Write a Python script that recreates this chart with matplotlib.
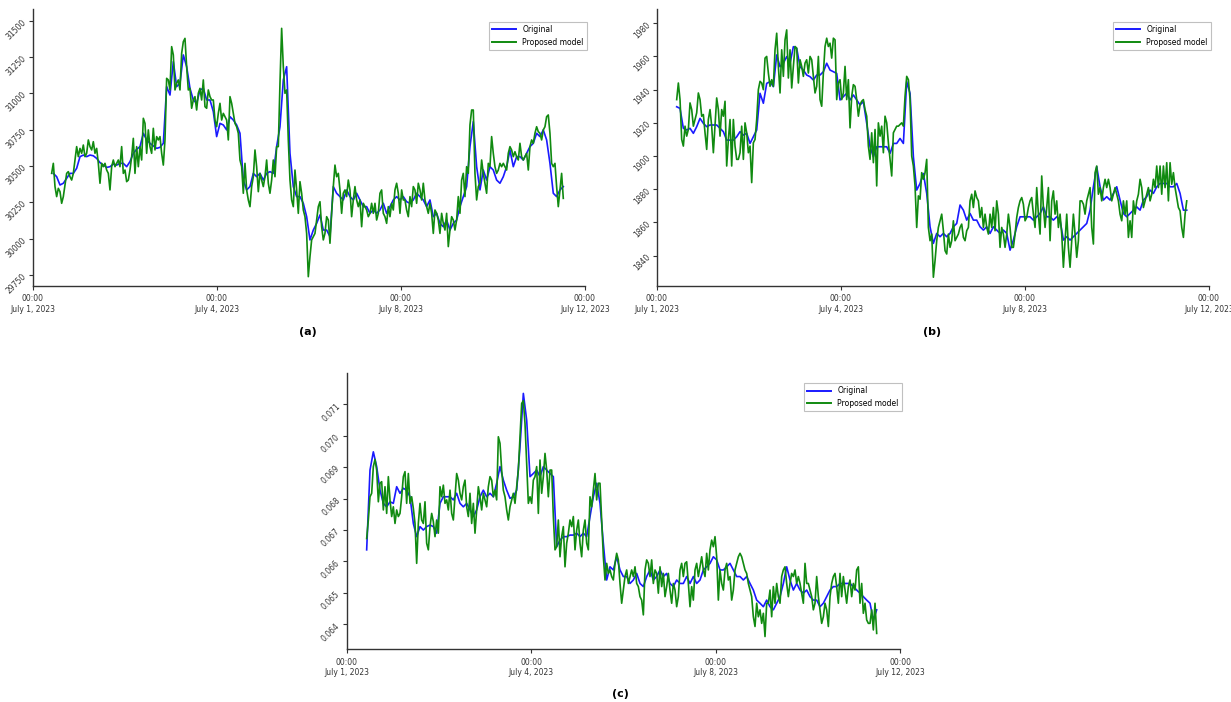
import numpy as np
import matplotlib
matplotlib.use("Agg")
import matplotlib.pyplot as plt

# x tick labels shared by all three panels
tick_labels = ['00:00\nJuly 1, 2023', '00:00\nJuly 4, 2023',
               '00:00\nJuly 8, 2023', '00:00\nJuly 12, 2023']

# ---- panel (a) ----
orig_a = [
    30449, 30426, 30369, 30381, 30415, 30449, 30449, 30484, 30564, 30575,
    30564, 30575, 30570, 30552, 30523, 30506, 30490, 30495, 30513, 30506,
    30518, 30518, 30495, 30530, 30587, 30615, 30633, 30725, 30679, 30656,
    30638, 30621, 30628, 30656, 31046, 30988, 31218, 31046, 31069, 31264,
    31183, 31034, 30954, 30931, 31023, 31034, 30954, 30954, 30874, 30702,
    30793, 30782, 30748, 30839, 30816, 30782, 30725, 30403, 30335, 30358,
    30449, 30426, 30449, 30403, 30449, 30461, 30449, 30633, 30770, 31092,
    31183, 30587, 30358, 30289, 30289, 30243, 30151, 29991, 30059, 30105,
    30163, 30059, 30059, 30014, 30358, 30312, 30289, 30266, 30335, 30289,
    30266, 30312, 30266, 30220, 30220, 30174, 30197, 30174, 30197, 30243,
    30174, 30220, 30266, 30289, 30266, 30289, 30254, 30243, 30266, 30312,
    30289, 30266, 30220, 30266, 30151, 30174, 30105, 30082, 30128, 30059,
    30105, 30128, 30220, 30289, 30358, 30633, 30805, 30495, 30335, 30472,
    30403, 30495, 30472, 30403, 30381, 30426, 30495, 30610, 30495, 30564,
    30564, 30541, 30587, 30633, 30656, 30725, 30702, 30748, 30679, 30518,
    30312, 30289, 30335, 30358]

model_a = [
    30449, 30518, 30358, 30289, 30346, 30323, 30243, 30289, 30369, 30449,
    30461, 30426, 30403, 30449, 30541, 30633, 30564, 30621, 30587, 30644,
    30564, 30587, 30679, 30633, 30610, 30667, 30587, 30621, 30518, 30381,
    30518, 30495, 30518, 30472, 30449, 30335, 30495, 30541, 30495, 30518,
    30541, 30495, 30633, 30449, 30472, 30392, 30403, 30472, 30564, 30690,
    30449, 30633, 30495, 30633, 30541, 30828, 30793, 30587, 30748, 30633,
    30587, 30759, 30610, 30702, 30679, 30702, 30587, 30506, 30679, 31103,
    31092, 31023, 31321, 31264, 31023, 31069, 31092, 31023, 31275, 31355,
    31378, 31183, 31023, 31034, 30897, 30954, 30977, 30885, 31000, 31034,
    30954, 31092, 30908, 30897, 31023, 30977, 30954, 30954, 30816, 30770,
    30862, 30931, 30816, 30862, 30839, 30816, 30679, 30977, 30931, 30862,
    30793, 30770, 30725, 30541, 30495, 30312, 30518, 30335, 30266, 30220,
    30358, 30426, 30610, 30495, 30323, 30449, 30403, 30358, 30426, 30541,
    30381, 30312, 30403, 30541, 30426, 30633, 30633, 31069, 31447, 31183,
    31000, 31023, 30679, 30403, 30266, 30220, 30472, 30335, 30174, 30392,
    30312, 30197, 30151, 30036, 29738, 29876, 29991, 30014, 30036, 30128,
    30220, 30254,
    30082, 29991, 30036, 30151, 30128, 29968, 30174, 30358, 30506, 30426,
    30449, 30335, 30174, 30312, 30335, 30289, 30403, 30335, 30151, 30266,
    30358, 30266, 30220, 30266, 30082, 30243, 30220, 30197, 30151, 30174,
    30243, 30174, 30243, 30128, 30174, 30312, 30335, 30174, 30151, 30105,
    30220, 30151, 30243, 30197, 30335, 30381, 30312, 30174, 30335, 30266,
    30266, 30197, 30151, 30289, 30220, 30358, 30335, 30243, 30381, 30335,
    30266, 30381, 30266, 30220, 30174, 30243, 30174, 30036, 30197, 30174,
    30128, 30036, 30174, 30105, 30059, 30174, 29945, 30059, 30151, 30128,
    30059, 30128, 30289, 30174, 30403, 30449, 30289, 30495, 30449, 30782,
    30885, 30885, 30449, 30266, 30358, 30381, 30541, 30449, 30381, 30312,
    30518, 30495, 30702, 30587, 30495, 30449, 30472, 30518, 30495, 30518,
    30495, 30472, 30587, 30633, 30610, 30564, 30598, 30564, 30541, 30656,
    30564, 30541, 30564, 30587, 30472, 30633, 30679, 30656, 30725, 30770,
    30736, 30725, 30679, 30748, 30770, 30839, 30851, 30725, 30518, 30495,
    30518, 30358, 30220, 30335, 30449, 30277]

# ---- panel (b) ----
orig_b = [
    1929.7, 1928.7, 1916.7, 1915.7, 1916.7, 1913.7, 1917.7, 1922.7, 1919.7, 1917.7,
    1918.7, 1918.7, 1918.7, 1916.7, 1914.7, 1909.6, 1909.6, 1909.6, 1911.6, 1914.7,
    1912.6, 1913.7, 1907.6, 1911.6, 1915.7, 1937.8, 1931.8, 1943.8, 1944.8, 1941.8,
    1960.9, 1953.8, 1955.9, 1959.9, 1955.9, 1965.9, 1964.9, 1953.8, 1951.8, 1948.8,
    1947.8, 1945.8, 1948.8, 1948.8, 1950.8, 1955.9, 1951.8, 1950.8, 1949.8, 1933.8,
    1935.8, 1937.8, 1933.8, 1936.8, 1933.8, 1930.8, 1932.8, 1919.7, 1905.6, 1899.6,
    1905.6, 1905.6, 1905.6, 1905.6, 1901.6, 1907.6, 1907.6, 1910.6, 1907.6, 1944.8,
    1937.8, 1899.6, 1879.5,
    1883.5, 1889.5, 1877.5, 1857.4, 1847.4, 1853.4, 1851.4, 1853.4, 1851.4, 1853.4,
    1857.4, 1859.4, 1870.5, 1867.4, 1861.4, 1865.4, 1861.4, 1861.4, 1857.4, 1855.4,
    1857.4, 1853.4, 1857.4, 1855.4, 1853.4, 1855.4, 1853.4, 1843.3, 1849.4, 1857.4,
    1863.4, 1863.4, 1863.4, 1863.4, 1861.4, 1863.4, 1865.4, 1869.4, 1863.4, 1863.4,
    1861.4, 1863.4, 1861.4, 1849.4, 1851.4, 1849.4, 1851.4, 1853.4, 1855.4, 1857.4,
    1859.4, 1867.4, 1881.5, 1893.6, 1881.5, 1873.5, 1875.5, 1873.5, 1877.5, 1881.5,
    1873.5, 1865.4, 1863.4, 1865.4, 1867.4, 1869.4, 1867.4, 1873.5, 1875.5, 1879.5,
    1877.5, 1881.5, 1883.5, 1883.5, 1883.5, 1881.5, 1881.5, 1883.5, 1877.5, 1867.4,
    1867.4]

model_b = [
    1934, 1944, 1934, 1910, 1906, 1918, 1912, 1916, 1932, 1928,
    1918, 1922, 1926, 1938, 1934, 1924, 1925, 1914, 1904, 1922,
    1928, 1918, 1902, 1918, 1935, 1928, 1912, 1928, 1924, 1933,
    1894, 1910, 1922, 1894, 1922, 1906, 1898, 1898, 1902, 1918,
    1898, 1920, 1914, 1902, 1906, 1884, 1908, 1910, 1922, 1940,
    1945, 1944, 1940, 1959, 1960, 1950, 1942, 1946, 1942, 1964,
    1974, 1954, 1938, 1964, 1948, 1970, 1976, 1947, 1964, 1941,
    1954, 1966, 1965, 1944, 1958, 1954, 1948, 1956, 1958, 1950,
    1960, 1958, 1948, 1938, 1942, 1960, 1934, 1930, 1950, 1966,
    1971, 1966, 1968, 1959, 1971, 1970, 1934, 1944, 1946, 1934,
    1938, 1954, 1934, 1946, 1917, 1936, 1943, 1942, 1934, 1924,
    1931, 1933, 1934, 1928, 1924, 1906, 1898, 1914, 1896, 1916,
    1882, 1920, 1912, 1918, 1902, 1924, 1920, 1908, 1898, 1888,
    1914, 1916, 1918, 1918, 1919, 1920, 1918, 1936, 1948, 1946,
    1934, 1900, 1894, 1882, 1857, 1876,
    1874, 1890, 1886, 1890, 1898, 1857, 1849, 1853, 1827, 1837,
    1849, 1857, 1861, 1865, 1855, 1843, 1841, 1853, 1845, 1849,
    1861, 1849, 1851, 1853, 1857, 1859, 1851, 1849, 1855, 1857,
    1873, 1877, 1869, 1879, 1875, 1873, 1863, 1869, 1857, 1865,
    1857, 1853, 1865, 1857, 1869, 1855, 1873, 1865, 1845, 1857,
    1853, 1845, 1853, 1865, 1857, 1845, 1845, 1853, 1863, 1869,
    1873, 1875, 1871, 1861, 1863, 1869, 1873, 1875, 1865, 1857,
    1881, 1865, 1853, 1888, 1869, 1857, 1869, 1881, 1849, 1873,
    1879, 1865, 1873, 1857, 1865, 1853, 1833, 1849, 1865, 1845,
    1833, 1849, 1865, 1853, 1839, 1849, 1873, 1873, 1871, 1865,
    1873, 1877, 1881, 1857, 1847, 1890, 1894, 1877, 1881, 1873,
    1881, 1886, 1881, 1886, 1881, 1873, 1877, 1881, 1877, 1873,
    1865, 1861, 1873, 1865, 1873, 1851, 1861, 1851, 1873, 1865,
    1873, 1877, 1886, 1881, 1869, 1873, 1877, 1881, 1873, 1877,
    1886, 1881, 1894, 1881, 1894, 1877, 1894, 1881, 1896, 1873,
    1896, 1883, 1890, 1881, 1875, 1869, 1867, 1857, 1851, 1865,
    1873]

# ---- panel (c) ----
orig_c = [
    0.06637, 0.06891, 0.06949, 0.06902, 0.06827, 0.06785, 0.06774, 0.06790, 0.06785, 0.06838,
    0.06817, 0.06833, 0.06827, 0.06806, 0.06721, 0.06679, 0.06711, 0.06700, 0.06711, 0.06716,
    0.06711, 0.06690, 0.06785, 0.06806, 0.06806, 0.06806, 0.06796, 0.06817, 0.06785, 0.06774,
    0.06785, 0.06764, 0.06743, 0.06764, 0.06806, 0.06827, 0.06806, 0.06817, 0.06806, 0.06849,
    0.06902, 0.06859, 0.06827, 0.06801, 0.06806, 0.06827, 0.06965, 0.07135, 0.07050, 0.06870,
    0.06880, 0.06891, 0.06870, 0.06902, 0.06891, 0.06880, 0.06870, 0.06647, 0.06668, 0.06679,
    0.06679, 0.06684, 0.06684, 0.06690, 0.06679, 0.06690, 0.06679, 0.06743, 0.06806, 0.06849,
    0.06785, 0.06658, 0.06541, 0.06583, 0.06573, 0.06615, 0.06573,
    0.06552, 0.06552, 0.06530, 0.06541, 0.06562, 0.06530, 0.06520, 0.06552, 0.06573, 0.06541,
    0.06552, 0.06573, 0.06552, 0.06562, 0.06530, 0.06520, 0.06541, 0.06530, 0.06530, 0.06552,
    0.06530, 0.06552, 0.06530, 0.06541, 0.06573, 0.06583, 0.06594, 0.06615, 0.06605, 0.06573,
    0.06573, 0.06583, 0.06594, 0.06573, 0.06552, 0.06552, 0.06541, 0.06552, 0.06530, 0.06509,
    0.06477, 0.06467, 0.06456, 0.06477, 0.06456, 0.06446, 0.06467, 0.06488, 0.06530, 0.06583,
    0.06541, 0.06509, 0.06530, 0.06509, 0.06499, 0.06509, 0.06488, 0.06477, 0.06477, 0.06456,
    0.06467, 0.06488, 0.06509, 0.06520, 0.06520, 0.06530, 0.06530, 0.06530, 0.06530, 0.06520,
    0.06509, 0.06499, 0.06488, 0.06477, 0.06467, 0.06414, 0.06446]

model_c = [
    0.06673, 0.06732, 0.06806, 0.06817, 0.06902, 0.06925, 0.06891, 0.06790, 0.06849, 0.06854,
    0.06764, 0.06838, 0.06753, 0.06870, 0.06796, 0.06743, 0.06774, 0.06721, 0.06764, 0.06743,
    0.06753, 0.06806, 0.06870, 0.06886, 0.06785, 0.06880, 0.06785, 0.06806, 0.06769, 0.06721,
    0.06594, 0.06721, 0.06785, 0.06732, 0.06721, 0.06790, 0.06658, 0.06637, 0.06711, 0.06753,
    0.06727, 0.06679, 0.06732, 0.06690, 0.06838, 0.06806, 0.06843, 0.06785, 0.06796, 0.06764,
    0.06827, 0.06753, 0.06732, 0.06806, 0.06880, 0.06859, 0.06817, 0.06796, 0.06838, 0.06859,
    0.06774, 0.06743, 0.06817, 0.06721, 0.06785, 0.06690, 0.06764, 0.06838, 0.06806, 0.06764,
    0.06817, 0.06796, 0.06774, 0.06838, 0.06870, 0.06859, 0.06806, 0.06827, 0.06796, 0.06997,
    0.06976, 0.06891, 0.06827, 0.06806, 0.06764, 0.06732, 0.06774, 0.06796, 0.06817, 0.06785,
    0.06838, 0.06891, 0.06997, 0.07103, 0.07112, 0.07039, 0.06912, 0.06785, 0.06806, 0.06785,
    0.06859, 0.06870, 0.06902, 0.06753, 0.06923, 0.06817, 0.06870, 0.06944, 0.06891, 0.06806,
    0.06891, 0.06891, 0.06743, 0.06637, 0.06647, 0.06732, 0.06615, 0.06679, 0.06711, 0.06583,
    0.06658, 0.06690, 0.06732, 0.06711, 0.06743, 0.06637, 0.06700, 0.06732, 0.06658, 0.06615,
    0.06700, 0.06732, 0.06658, 0.06637, 0.06806, 0.06774, 0.06827, 0.06880, 0.06796, 0.06849,
    0.06849, 0.06732, 0.06615, 0.06541, 0.06594, 0.06562, 0.06573, 0.06552, 0.06541, 0.06594,
    0.06626, 0.06605,
    0.06530, 0.06467, 0.06509, 0.06552, 0.06573, 0.06530, 0.06552, 0.06573, 0.06552, 0.06583,
    0.06530, 0.06520, 0.06488, 0.06477, 0.06430, 0.06573, 0.06605, 0.06594, 0.06552, 0.06605,
    0.06530, 0.06573, 0.06562, 0.06499, 0.06583, 0.06520, 0.06562, 0.06488, 0.06520, 0.06562,
    0.06509, 0.06467, 0.06530, 0.06509, 0.06456, 0.06488, 0.06573, 0.06594, 0.06552, 0.06594,
    0.06599, 0.06530, 0.06456, 0.06520, 0.06477, 0.06573, 0.06594, 0.06552, 0.06583, 0.06615,
    0.06573, 0.06552, 0.06626, 0.06573, 0.06637, 0.06668, 0.06647, 0.06679, 0.06615, 0.06477,
    0.06573, 0.06530, 0.06509, 0.06573, 0.06594, 0.06541, 0.06552, 0.06477, 0.06509, 0.06573,
    0.06594, 0.06615, 0.06626, 0.06615, 0.06594, 0.06573, 0.06562, 0.06530, 0.06509, 0.06488,
    0.06424, 0.06393, 0.06467, 0.06424, 0.06446, 0.06403, 0.06435, 0.06361, 0.06467, 0.06467,
    0.06509, 0.06424, 0.06520, 0.06467, 0.06530, 0.06488, 0.06467, 0.06552, 0.06573, 0.06583,
    0.06530, 0.06488, 0.06530, 0.06562, 0.06552, 0.06573, 0.06530, 0.06552, 0.06530, 0.06499,
    0.06467, 0.06594, 0.06530, 0.06530, 0.06509, 0.06488, 0.06446, 0.06467, 0.06552, 0.06488,
    0.06446, 0.06403, 0.06424, 0.06467, 0.06446, 0.06393, 0.06488, 0.06530, 0.06552, 0.06562,
    0.06520, 0.06467, 0.06562, 0.06488, 0.06552, 0.06509, 0.06467, 0.06520, 0.06541, 0.06488,
    0.06530, 0.06509, 0.06573, 0.06583, 0.06467, 0.06530, 0.06435, 0.06467, 0.06414, 0.06403,
    0.06403, 0.06446, 0.06382, 0.06467, 0.06371]

W, H = 1231, 702
fig = plt.figure(figsize=(W / 100, H / 100), dpi=100)


def panel(rect_px, orig, model, t_orig, t_model, ylim, yticks, yfmt, leg_y):
    left, top, right, bottom = rect_px
    ax = fig.add_axes([left / W, 1 - bottom / H, (right - left) / W, (bottom - top) / H])
    x_o = np.linspace(t_orig[0], t_orig[1], len(orig))
    x_m = np.linspace(t_model[0], t_model[1], len(model))
    ax.plot(x_o, orig, color='#1a1aff', lw=1.2, label='Original')
    ax.plot(x_m, model, color='#108a10', lw=1.2, label='Proposed model')
    ax.set_xlim(0, 3)
    ax.set_ylim(*ylim)
    ax.set_xticks([0, 1, 2, 3])
    ax.set_xticklabels(tick_labels, fontsize=5.5, color='#333333', linespacing=1.25)
    ax.set_yticks(yticks)
    ax.set_yticklabels([yfmt.format(v) for v in yticks], fontsize=5.5, color='#333333',
                       rotation=45, ha='right', va='center', rotation_mode='anchor')
    ax.tick_params(axis='both', length=3, width=0.8, color='#333333', pad=3)
    for s in ['top', 'right']:
        ax.spines[s].set_visible(False)
    for s in ['left', 'bottom']:
        ax.spines[s].set_color('#333333')
        ax.spines[s].set_linewidth(1.0)
    leg = ax.legend(loc='upper right', bbox_to_anchor=(1.003, leg_y), borderaxespad=0,
                    fontsize=5.5, handlelength=3.2, fancybox=False, framealpha=1,
                    edgecolor='#c0c0c0')
    leg.get_frame().set_linewidth(0.8)
    for h in leg.get_lines():
        h.set_linewidth(1.4)
    return ax


panel((33, 9.3, 585, 285.7), orig_a, model_a, (0.1105, 2.882), (0.1014, 2.882),
      (29676, 31578), np.arange(29750, 31501, 250), '{:.0f}', 0.954)
panel((657, 9.3, 1209, 285.7), orig_b, model_b, (0.107, 2.879), (0.107, 2.879),
      (1821.9, 1988.4), np.arange(1840, 1981, 20), '{:.0f}', 0.954)
panel((347, 373.3, 900, 649.3), orig_c, model_c, (0.1067, 2.8735), (0.1067, 2.8735),
      (0.063204, 0.07199), [0.064, 0.065, 0.066, 0.067, 0.068, 0.069, 0.070, 0.071],
      '{:.3f}', 0.964)

fig.text(308 / W, 1 - 332 / H, '(a)', ha='center', va='center', fontsize=8, fontweight='bold')
fig.text(932 / W, 1 - 332 / H, '(b)', ha='center', va='center', fontsize=8, fontweight='bold')
fig.text(620 / W, 1 - 694 / H, '(c)', ha='center', va='center', fontsize=8, fontweight='bold')

fig.savefig('out.png', dpi=100)
